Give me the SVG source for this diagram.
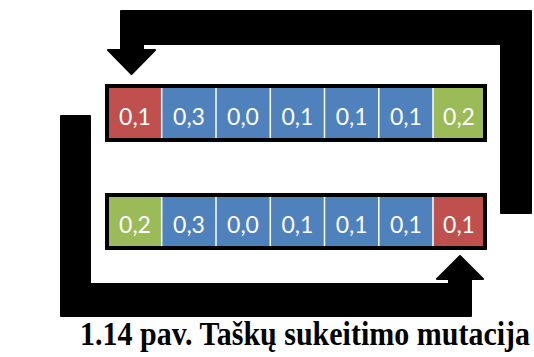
<svg xmlns="http://www.w3.org/2000/svg" width="534" height="357" viewBox="0 0 534 357">
  <style>
    .arrow { fill: #000; stroke: #000; stroke-width: 2; stroke-linejoin: round; }
    .frame { fill: none; stroke: #000; stroke-width: 4; }
    .red { fill: #C0504D; }
    .blue { fill: #4F81BD; }
    .green { fill: #9BBB59; }
    .sep { stroke: #fff; stroke-width: 1.5; }
    .val { font-family: Lato, "Open Sans", sans-serif; font-size: 23px; fill: #fff; text-anchor: middle; }
    .caption { font-family: "Liberation Serif", "Times New Roman", serif; font-weight: bold; font-size: 30px; fill: #000; text-anchor: middle; }
  </style>

  <g id="connectors">
    <!-- upper bent arrow: from right side down over the top into the first cell -->
    <polygon class="arrow" points="121,11 531,11 531,213 501,213 501,44 143,44 143,50 155,50 131.5,74 108,50 121,50"/>
    <!-- lower bent arrow: from left side under the bottom into the last cell -->
    <polygon class="arrow" points="61,116 90,116 90,284 449,284 449,279 437,279 460,256 483,279 471,279 471,316 61,316"/>
  </g>

  <g id="row-before">
    <rect class="red" x="107" y="86" width="54.7" height="54"/>
    <rect class="blue" x="161.7" y="86" width="271.3" height="54"/>
    <rect class="green" x="433" y="86" width="52" height="54"/>
    <line class="sep" x1="161.7" y1="86" x2="161.7" y2="140"/>
    <line class="sep" x1="216" y1="86" x2="216" y2="140"/>
    <line class="sep" x1="270.3" y1="86" x2="270.3" y2="140"/>
    <line class="sep" x1="324.5" y1="86" x2="324.5" y2="140"/>
    <line class="sep" x1="378.8" y1="86" x2="378.8" y2="140"/>
    <line class="sep" x1="433" y1="86" x2="433" y2="140"/>
    <rect class="frame" x="107" y="86" width="378" height="54"/>
    <text class="val" x="135" y="124.5">0,1</text>
    <text class="val" x="189" y="124.5">0,3</text>
    <text class="val" x="243" y="124.5">0,0</text>
    <text class="val" x="297.4" y="124.5">0,1</text>
    <text class="val" x="351.6" y="124.5">0,1</text>
    <text class="val" x="405.9" y="124.5">0,1</text>
    <text class="val" x="459" y="124.5">0,2</text>
  </g>

  <g id="row-after">
    <rect class="green" x="107" y="195" width="54.7" height="53"/>
    <rect class="blue" x="161.7" y="195" width="271.3" height="53"/>
    <rect class="red" x="433" y="195" width="52" height="53"/>
    <line class="sep" x1="161.7" y1="195" x2="161.7" y2="248"/>
    <line class="sep" x1="216" y1="195" x2="216" y2="248"/>
    <line class="sep" x1="270.3" y1="195" x2="270.3" y2="248"/>
    <line class="sep" x1="324.5" y1="195" x2="324.5" y2="248"/>
    <line class="sep" x1="378.8" y1="195" x2="378.8" y2="248"/>
    <line class="sep" x1="433" y1="195" x2="433" y2="248"/>
    <rect class="frame" x="107" y="195" width="378" height="53"/>
    <text class="val" x="135" y="232.5">0,2</text>
    <text class="val" x="189" y="232.5">0,3</text>
    <text class="val" x="243" y="232.5">0,0</text>
    <text class="val" x="297.4" y="232.5">0,1</text>
    <text class="val" x="351.6" y="232.5">0,1</text>
    <text class="val" x="405.9" y="232.5">0,1</text>
    <text class="val" x="459" y="232.5">0,1</text>
  </g>

  <!-- caption, drawn slightly taller than its natural proportions -->
  <text class="caption" transform="translate(305,345) scale(1,1.12)" x="0" y="0">1.14 pav. Taškų sukeitimo mutacija</text>
</svg>
